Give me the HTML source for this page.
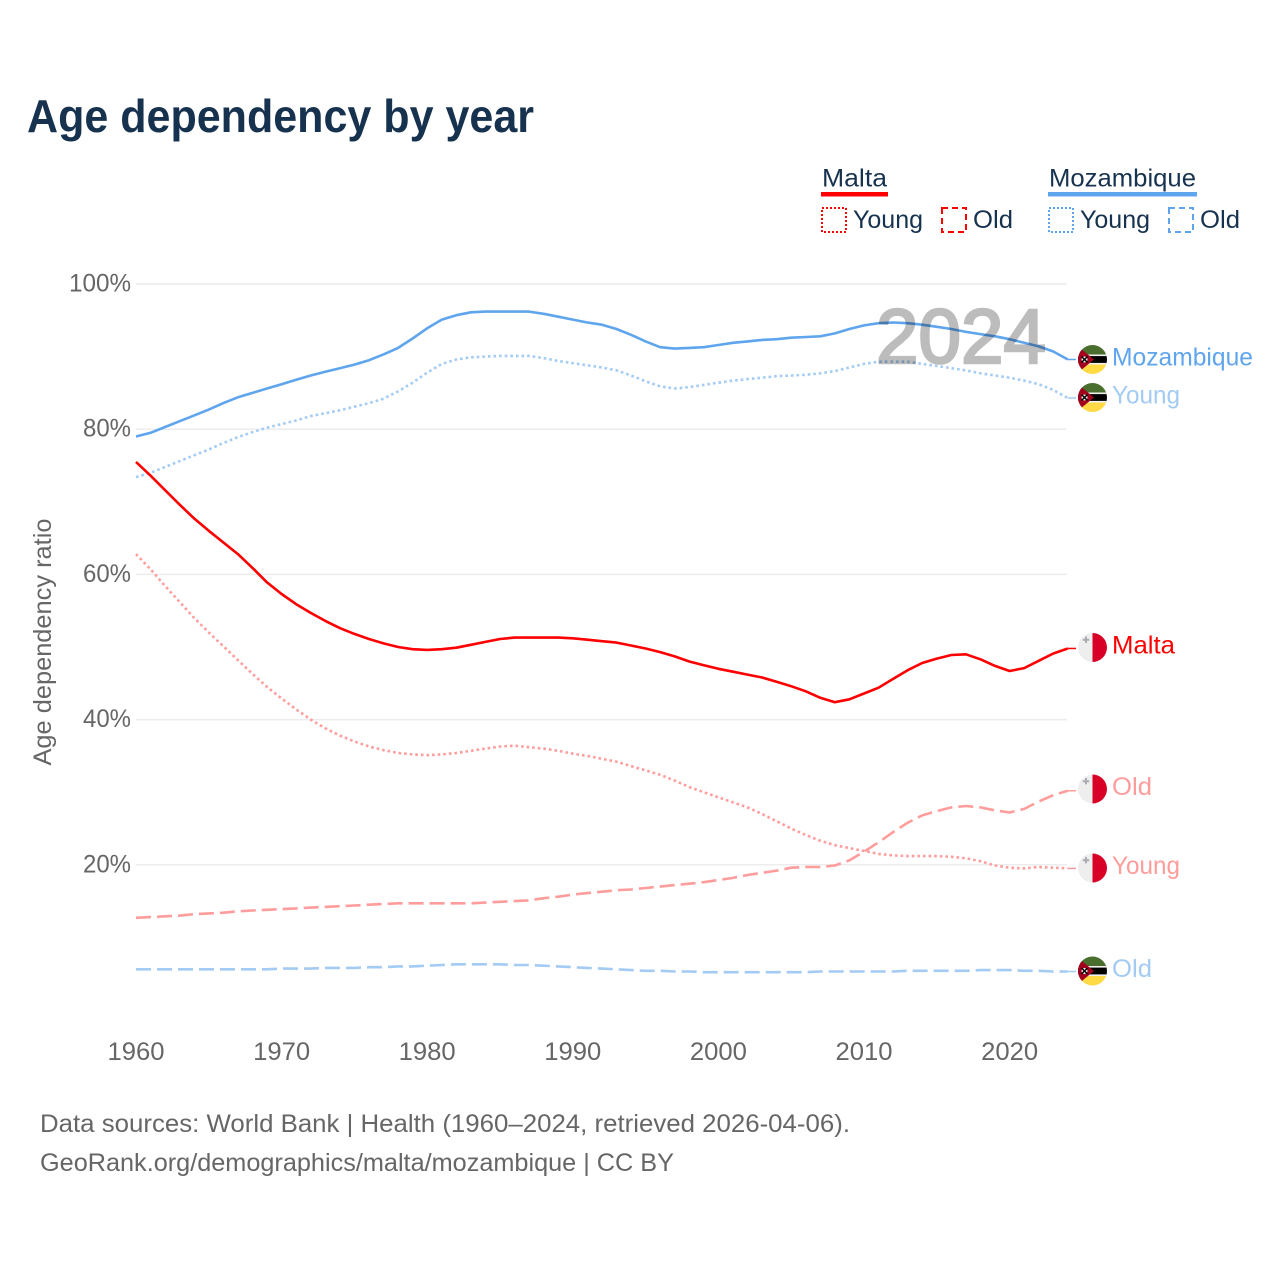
<!DOCTYPE html>
<html lang="en">
<head>
<meta charset="utf-8">
<title>Age dependency by year</title>
<style>
html,body{margin:0;padding:0;background:#fff;width:1280px;height:1280px;overflow:hidden}
svg{display:block}
text{font-family:"Liberation Sans",sans-serif}
</style>
</head>
<body>
<svg id="chart" xmlns="http://www.w3.org/2000/svg" width="1280" height="1280" viewBox="0 0 1280 1280">
  <defs>
    <clipPath id="flag-clip"><circle cx="0" cy="0" r="14.5"/></clipPath>
    <g id="flag-malta" clip-path="url(#flag-clip)">
      <rect x="-15" y="-15" width="15" height="30" fill="#eeeeee"/>
      <rect x="0" y="-15" width="15" height="30" fill="#d80027"/>
      <path d="M-7.5 -11h2v2.2h2.2v2h-2.2v2.2h-2v-2.2h-2.2v-2h2.2z" fill="#acabb1"/>
    </g>
    <g id="flag-mozambique" clip-path="url(#flag-clip)">
      <rect x="-15" y="-15" width="30" height="10.5" fill="#496e2d"/>
      <rect x="-15" y="-4.5" width="30" height="9" fill="#000"/>
      <rect x="-15" y="-5" width="30" height="1.6" fill="#f0f0f0"/>
      <rect x="-15" y="3.4" width="30" height="1.6" fill="#f0f0f0"/>
      <rect x="-15" y="5" width="30" height="10.5" fill="#ffda44"/>
      <path d="M-15 -13.5L1.5 0L-15 13.5z" fill="#a2001d"/>
      <circle cx="-8" cy="0" r="3" fill="#f0f0f0"/>
      <path d="M-11 -3L-5 3M-5 -3L-11 3" stroke="#000" stroke-width="1.5"/>
    </g>
  </defs>

  <text x="27" y="132" font-size="46" font-weight="700" fill="#17324f" textLength="507" lengthAdjust="spacingAndGlyphs">Age dependency by year</text>

  <g>
    <g>
      <text x="822" y="186.5" font-size="25" fill="#17324f" textLength="65" lengthAdjust="spacingAndGlyphs">Malta</text>
      <rect x="821" y="192" width="67" height="4.5" fill="#ff0000"/>
    </g>
    <g>
      <rect x="822" y="208" width="24" height="24" fill="none" stroke="#ff0000" stroke-width="2" stroke-dasharray="2 2"/>
      <text x="853" y="228" font-size="25" fill="#17324f" textLength="70" lengthAdjust="spacingAndGlyphs">Young</text>
    </g>
    <g>
      <rect x="942" y="208" width="24" height="24" fill="none" stroke="#ff0000" stroke-width="2" stroke-dasharray="6 4"/>
      <text x="973" y="228" font-size="25" fill="#17324f" textLength="40" lengthAdjust="spacingAndGlyphs">Old</text>
    </g>
    <g>
      <text x="1049" y="186.5" font-size="25" fill="#17324f" textLength="147" lengthAdjust="spacingAndGlyphs">Mozambique</text>
      <rect x="1048" y="192" width="149" height="4.5" fill="#5fa5ee"/>
    </g>
    <g>
      <rect x="1049" y="208" width="24" height="24" fill="none" stroke="#5fa5ee" stroke-width="2" stroke-dasharray="2 2"/>
      <text x="1080" y="228" font-size="25" fill="#17324f" textLength="70" lengthAdjust="spacingAndGlyphs">Young</text>
    </g>
    <g>
      <rect x="1169" y="208" width="24" height="24" fill="none" stroke="#5fa5ee" stroke-width="2" stroke-dasharray="6 4"/>
      <text x="1200" y="228" font-size="25" fill="#17324f" textLength="40" lengthAdjust="spacingAndGlyphs">Old</text>
    </g>
  </g>

  <g id="grid"></g>
  <g id="y-ticks"></g>
  <g id="x-ticks"></g>
  <text transform="translate(51,642) rotate(-90)" text-anchor="middle" font-size="25" fill="#666666" textLength="247" lengthAdjust="spacingAndGlyphs">Age dependency ratio</text>

  <g id="series"></g>
  <text x="876" y="363" font-size="77" font-weight="400" fill="#000000" stroke="#000000" stroke-width="2.6" opacity="0.26" textLength="170" lengthAdjust="spacingAndGlyphs">2024</text>
  <g id="end-labels"></g>

  <text x="40" y="1132" font-size="25" fill="#666666" textLength="810" lengthAdjust="spacingAndGlyphs">Data sources: World Bank | Health (1960–2024, retrieved 2026-04-06).</text>
  <text x="40" y="1171" font-size="25" fill="#666666" textLength="634" lengthAdjust="spacingAndGlyphs">GeoRank.org/demographics/malta/mozambique | CC BY</text>
</svg>

<script>
const years = [1960,1961,1962,1963,1964,1965,1966,1967,1968,1969,1970,1971,1972,1973,1974,1975,1976,1977,1978,1979,1980,1981,1982,1983,1984,1985,1986,1987,1988,1989,1990,1991,1992,1993,1994,1995,1996,1997,1998,1999,2000,2001,2002,2003,2004,2005,2006,2007,2008,2009,2010,2011,2012,2013,2014,2015,2016,2017,2018,2019,2020,2021,2022,2023,2024];
const xTickValues = [1960,1970,1980,1990,2000,2010,2020];
const yTickValues = [20,40,60,80,100];

const mozambiqueTotal = [79.0,79.5,80.3,81.1,81.9,82.7,83.6,84.4,85.0,85.6,86.2,86.8,87.4,87.9,88.4,88.9,89.5,90.3,91.2,92.5,93.9,95.1,95.7,96.1,96.2,96.2,96.2,96.2,95.9,95.5,95.1,94.7,94.4,93.8,93.0,92.1,91.3,91.1,91.2,91.3,91.6,91.9,92.1,92.3,92.4,92.6,92.7,92.8,93.2,93.8,94.3,94.6,94.7,94.6,94.4,94.1,93.8,93.4,93.1,92.8,92.4,91.9,91.4,90.7,89.6];
const mozambiqueYoung = [73.4,74.0,74.8,75.6,76.4,77.2,78.1,78.9,79.6,80.2,80.7,81.2,81.8,82.2,82.6,83.1,83.6,84.2,85.2,86.4,87.8,89.0,89.6,89.9,90.0,90.1,90.1,90.1,89.8,89.4,89.1,88.8,88.5,88.1,87.4,86.6,85.9,85.6,85.8,86.1,86.4,86.7,86.9,87.1,87.3,87.4,87.5,87.7,88.0,88.5,89.0,89.3,89.3,89.3,89.0,88.7,88.4,88.1,87.7,87.4,87.1,86.7,86.2,85.4,84.3];
const mozambiqueOld = [5.6,5.6,5.6,5.6,5.6,5.6,5.6,5.6,5.6,5.6,5.7,5.7,5.7,5.8,5.8,5.8,5.9,5.9,6.0,6.0,6.1,6.2,6.3,6.3,6.3,6.3,6.2,6.2,6.1,6.0,5.9,5.8,5.7,5.6,5.5,5.4,5.4,5.3,5.3,5.2,5.2,5.2,5.2,5.2,5.2,5.2,5.2,5.3,5.3,5.3,5.3,5.3,5.3,5.4,5.4,5.4,5.4,5.4,5.5,5.5,5.5,5.4,5.4,5.3,5.3];
const maltaTotal = [75.5,73.6,71.6,69.6,67.7,66.0,64.4,62.8,60.9,58.9,57.3,55.9,54.7,53.6,52.6,51.8,51.1,50.5,50.0,49.7,49.6,49.7,49.9,50.3,50.7,51.1,51.3,51.3,51.3,51.3,51.2,51.0,50.8,50.6,50.2,49.8,49.3,48.7,48.0,47.5,47.0,46.6,46.2,45.8,45.2,44.6,43.9,43.0,42.4,42.8,43.6,44.4,45.6,46.8,47.8,48.4,48.9,49.0,48.3,47.4,46.7,47.1,48.1,49.1,49.8];
const maltaYoung = [62.8,60.7,58.4,56.2,54.0,52.0,50.1,48.2,46.3,44.5,42.9,41.4,40.0,38.8,37.8,37.0,36.3,35.8,35.4,35.2,35.1,35.2,35.4,35.7,36.0,36.3,36.4,36.2,36.0,35.7,35.3,35.0,34.6,34.2,33.6,33.0,32.4,31.6,30.7,30.0,29.3,28.6,27.9,27.0,26.0,25.0,24.1,23.3,22.7,22.3,21.9,21.5,21.3,21.2,21.2,21.2,21.1,20.9,20.5,19.9,19.6,19.5,19.7,19.6,19.5];
const maltaOld = [12.7,12.8,12.9,13.0,13.2,13.3,13.4,13.6,13.7,13.8,13.9,14.0,14.1,14.2,14.3,14.4,14.5,14.6,14.7,14.7,14.7,14.7,14.7,14.7,14.8,14.9,15.0,15.1,15.4,15.6,15.9,16.1,16.3,16.5,16.6,16.8,17.0,17.2,17.4,17.6,17.9,18.2,18.6,18.9,19.2,19.6,19.7,19.7,19.9,20.6,21.8,23.1,24.5,25.8,26.8,27.4,27.9,28.1,27.9,27.5,27.2,27.7,28.7,29.6,30.2];

const NS = 'http://www.w3.org/2000/svg';
function xScale(year){ return 136 + (year - 1960) * 14.56; }
function yScale(v){ return 1010 - v * 7.26; }
function make(tag, attrs, parent, text){
  const el = document.createElementNS(NS, tag);
  for (const k in attrs) el.setAttribute(k, attrs[k]);
  if (text !== undefined) el.textContent = text;
  parent.appendChild(el);
  return el;
}

const gridGroup = document.getElementById('grid');
const yTickGroup = document.getElementById('y-ticks');
const xTickGroup = document.getElementById('x-ticks');
const seriesGroup = document.getElementById('series');
const endGroup = document.getElementById('end-labels');

yTickValues.forEach(function(v){
  const line = make('line', {x1:136, x2:1067, y1:yScale(v), y2:yScale(v), stroke:'#ececec', 'stroke-width':1.5}, gridGroup);
  
  
  const label = make('text', {x:131, y:yScale(v)+7.5, 'text-anchor':'end', 'font-size':25, fill:'#666666', textLength:v===100?62:48, lengthAdjust:'spacingAndGlyphs'}, yTickGroup, v + '%');
  
  
});

xTickValues.forEach(function(t){
  const label = make('text', {x:xScale(t), y:1060, 'text-anchor':'middle', 'font-size':25, fill:'#666666', textLength:57, lengthAdjust:'spacingAndGlyphs'}, xTickGroup, String(t));
  
  
});

const seriesList = [
  {key:'mozambique-old', values:mozambiqueOld, color:'#a3cbf3', dash:'15 6', width:2.6, label:'Old', labelLen:40, flag:'mozambique', flagY:971},
  {key:'malta-old', values:maltaOld, color:'#ff9c9c', dash:'15 6', width:2.6, label:'Old', labelLen:40, flag:'malta', flagY:789},
  {key:'malta-young', values:maltaYoung, color:'#ff9c9c', dash:'2.6 3', width:2.6, label:'Young', labelLen:68, flag:'malta', flagY:868},
  {key:'mozambique-young', values:mozambiqueYoung, color:'#a3cbf3', dash:'2.6 3', width:2.6, label:'Young', labelLen:68, flag:'mozambique', flagY:397.5},
  {key:'malta-total', values:maltaTotal, color:'#ff0000', dash:'', width:2.6, label:'Malta', labelLen:63, flag:'malta', flagY:647.5},
  {key:'mozambique-total', values:mozambiqueTotal, color:'#5fa5ee', dash:'', width:2.6, label:'Mozambique', labelLen:141, flag:'mozambique', flagY:359.5}
];

seriesList.forEach(function(s){
  const pts = s.values.map(function(v, i){ return xScale(years[i]).toFixed(1) + ',' + yScale(v).toFixed(1); }).join(' ');
  const line = make('polyline', {points:pts, fill:'none', stroke:s.color, 'stroke-width':s.width, 'stroke-linejoin':'round'}, seriesGroup);
  if (s.dash) line.setAttribute('stroke-dasharray', s.dash);
  
  

  const lastValue = s.values[s.values.length - 1];
  const lastYear = years[years.length - 1];
  const connector = make('line', {x1:xScale(lastYear), x2:1076, y1:yScale(lastValue), y2:yScale(lastValue), stroke:s.color, 'stroke-width':1.5}, endGroup);
  
  

  const flag = make('use', {href:'#flag-' + s.flag, x:1092.5, y:s.flagY}, endGroup);
  
  

  const label = make('text', {x:1112, y:s.flagY+6, 'font-size':25, fill:s.color, textLength:s.labelLen, lengthAdjust:'spacingAndGlyphs'}, endGroup, s.label);
  
  
});
</script>
</body>
</html>
